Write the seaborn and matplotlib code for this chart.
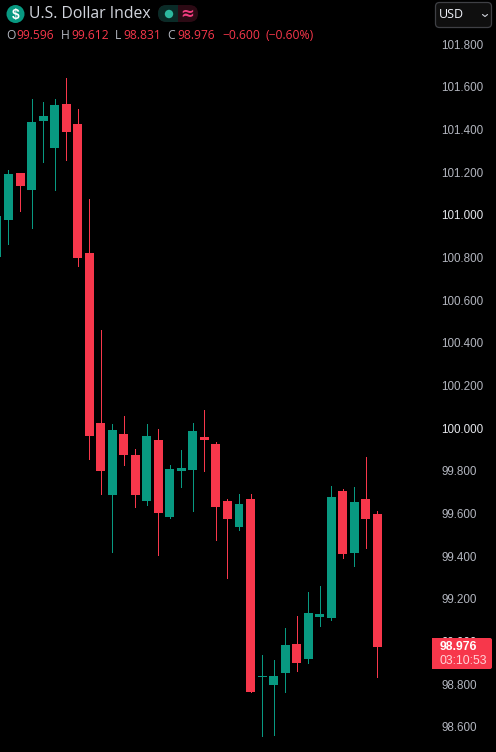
import numpy as np
import pandas as pd
import matplotlib
matplotlib.use('Agg')
import matplotlib.pyplot as plt
from matplotlib.patches import Circle, FancyBboxPatch, Rectangle
import seaborn as sns

idx = np.arange(-1, 33)
opens = [100.803, 100.976, 101.197, 101.117, 101.440, 101.314, 101.520, 101.426, 100.821, 100.024,
         99.687, 99.973, 99.874, 99.659, 99.945, 99.584, 99.799, 99.804, 99.959, 99.926,
         99.659, 99.537, 99.668, 98.833, 98.796, 98.852, 98.988, 98.918, 99.115, 99.110,
         99.705, 99.415, 99.668, 99.596]
highs = [101.050, 101.211, 101.197, 101.544, 101.529, 101.544, 101.642, 101.497, 101.075, 100.460,
         100.020, 100.057, 99.902, 100.020, 99.996, 99.827, 99.898, 100.024, 100.085, 99.935,
         99.668, 99.691, 99.691, 98.936, 98.913, 99.063, 99.119, 99.232, 99.260, 99.729,
         99.715, 99.724, 99.865, 99.612]
lows = [100.760, 100.864, 101.018, 100.939, 101.248, 101.117, 101.258, 100.760, 99.856, 99.691,
        99.419, 99.827, 99.630, 99.640, 99.405, 99.579, 99.724, 99.612, 99.799, 99.476,
        99.298, 99.523, 98.763, 98.557, 98.561, 98.763, 98.861, 98.899, 99.072, 99.101,
        99.391, 99.354, 99.438, 98.831]
closes = [100.995, 101.192, 101.136, 101.436, 101.464, 101.515, 101.389, 100.798, 99.963, 99.799,
          99.991, 99.874, 99.687, 99.963, 99.602, 99.809, 99.813, 99.987, 99.945, 99.630,
          99.574, 99.644, 98.763, 98.838, 98.838, 98.983, 98.899, 99.133, 99.129, 99.677,
          99.410, 99.654, 99.574, 98.976]
price_ticks = [101.8, 101.6, 101.4, 101.2, 101.0, 100.8, 100.6, 100.4, 100.2, 100.0,
               99.8, 99.6, 99.4, 99.2, 99.0, 98.8, 98.6]

GREEN = '#089981'
RED = '#F7374B'
GREY = '#B2B5BE'

sns.set_theme(style='dark', rc={'figure.facecolor': 'black', 'axes.facecolor': 'black'})
plt.rcParams['font.family'] = ['Liberation Sans', 'DejaVu Sans']

df = pd.DataFrame({'idx': idx, 'open': opens, 'high': highs, 'low': lows, 'close': closes})
df['bottom'] = df[['open', 'close']].min(axis=1)
df['body'] = (df['close'] - df['open']).abs().clip(lower=0.004)
df['up'] = df['close'] >= df['open']

W, H = 496, 752
fig = plt.figure(figsize=(W / 100, H / 100), dpi=100, facecolor='black')
ax = fig.add_axes([0, 0, 436 / W, 1])

# wicks first, bodies on top
for up, color in [(True, GREEN), (False, RED)]:
    part = df[df['up'] == up]
    ax.vlines(part['idx'], part['low'], part['high'], color=color, lw=0.72, antialiased=False, zorder=1)
    sns.barplot(data=part, x='idx', y='body', bottom=part['bottom'].values, native_scale=True,
                color=color, saturation=1, width=0.78, errorbar=None, linewidth=0, ax=ax, zorder=2)

px_per_bar = 11.525
ax.set_xlim(-8.5 / px_per_bar, (436 - 8.5) / px_per_bar)
ax.set_ylim(98.4816, 102.0077)
ax.set_xlabel('')
ax.set_ylabel('')
ax.set_xticks([])
ax.grid(False)
for s in ax.spines.values():
    s.set_visible(False)

ax.yaxis.tick_right()
ax.set_yticks(price_ticks)
ax.set_yticklabels([f'{p:.3f}' for p in price_ticks], fontsize=8.4)
ax.tick_params(axis='y', length=0, pad=3.6)
for lab, p in zip(ax.get_yticklabels(), price_ticks):
    lab.set_color('#E4E6EB' if abs(p - round(p)) < 1e-6 else GREY)

# overlay in pixel coordinates for the header and the badges
ov = fig.add_axes([0, 0, 1, 1], facecolor='none')
ov.set_xlim(0, W)
ov.set_ylim(H, 0)
ov.axis('off')

ov.add_patch(Circle((15.5, 14), 9, color=GREEN, lw=0))
ov.text(15.5, 14.5, '$', color='white', fontsize=10, fontweight='bold', ha='center', va='center')
ov.text(29, 14.5, 'U.S. Dollar Index', color='#D1D4DC', fontsize=11.3, family='Open Sans', va='center')

ov.add_patch(FancyBboxPatch((158, 5), 40, 17, boxstyle='round,pad=0,rounding_size=8.5', fc='#2C0A14', lw=0))
ov.add_patch(FancyBboxPatch((158, 5), 30, 17, boxstyle='round,pad=0,rounding_size=8.5', fc='#0A2B27', lw=0))
ov.add_patch(Rectangle((178, 5), 12, 17, fc='#2C0A14', lw=0))
ov.add_patch(Circle((169, 14), 4.2, color='#2DB89F', lw=0))
ov.text(187.5, 13.5, '≈', color='#F23D7F', fontsize=12, fontweight='bold', ha='center', va='center', family='DejaVu Sans')

header = [(6, 'O', GREY), (16, f'{opens[-1]:.3f}', RED), (61, 'H', GREY), (71, f'{highs[-1]:.3f}', RED),
          (115, 'L', GREY), (123, f'{lows[-1]:.3f}', RED), (167, 'C', GREY), (177, f'{closes[-1]:.3f}', RED),
          (222, '−0.600', RED), (265, '(−0.60%)', RED)]
for x, t, c in header:
    ov.text(x, 35.5, t, color=c, fontsize=8.7, family='Open Sans', va='center')

# USD button
ov.add_patch(FancyBboxPatch((435.5, 2.5), 56, 25, boxstyle='round,pad=0,rounding_size=4', fc='#0F0F0F',
                            ec='#3F4045', lw=0.9))
ov.text(439, 15, 'USD', color='#F0F3FA', fontsize=9, family='Open Sans', va='center')
ov.plot([482.5, 485, 487.5], [14.5, 16.5, 14.5], color='#D1D4DC', lw=0.8)

# last price badge
ov.add_patch(FancyBboxPatch((432, 638), 60, 31, boxstyle='round,pad=0,rounding_size=2', fc='#F7374B', lw=0))
ov.add_patch(Rectangle((432, 638), 4, 31, fc='#F7374B', lw=0))
ov.text(440, 647, f'{closes[-1]:.3f}', color='white', fontsize=8.8, fontweight='bold', va='center')
ov.text(440, 661, '03:10:53', color='#FFD3D8', fontsize=8.8, va='center')

fig.savefig('out.png', dpi=100, facecolor='black')
